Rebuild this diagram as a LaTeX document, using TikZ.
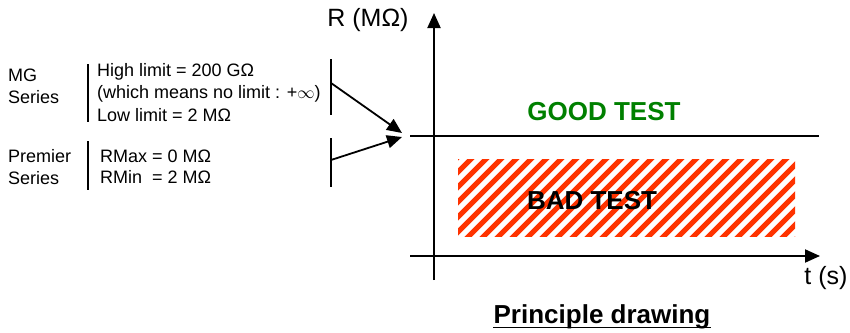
\documentclass[tikz,border=0pt]{standalone}
\usepackage{fontspec}
\setmainfont{Liberation Sans}
\usetikzlibrary{arrows.meta,calc}
\definecolor{hatchred}{RGB}{255,51,0}
\definecolor{goodgreen}{RGB}{0,128,0}
\begin{document}
\begin{tikzpicture}[x=1pt,y=-1pt,
  small/.style={font=\fontsize{18}{21}\selectfont, inner sep=0pt, anchor=west},
  big/.style={font=\fontsize{25}{29}\selectfont, inner sep=0pt},
  bigb/.style={font=\fontsize{26}{30}\selectfont\bfseries, inner sep=0pt},
  bar/.style={line width=1.8pt},
  axis/.style={line width=2pt},
  tip/.style={-{Triangle[length=15pt,width=13pt]}}]
\useasboundingbox (0,0) rectangle (850,332);
% left texts
\node[small] (mg1) at (8,75) {MG};
\node[small] (mg2) at (8,97) {Series};
\node[small] (h1) at (97,72) {High limit = 200 GΩ};
\node[small] (h2) at (97,94) {(which means no limit : +$\infty$)};
\node[small] (h3) at (97,115) {Low limit = 2 MΩ};
\node[small] (p1) at (8,156) {Premier};
\node[small] (p2) at (8,178) {Series};
\node[small] (r1) at (100,156) {RMax = 0 MΩ};
\node[small] (r2) at (100,177) {RMin\ \ = 2 MΩ};
% bars
\draw[bar] (88,64) -- (88,122);
\draw[bar] (331,59) -- (331,115);
\draw[bar] (88,141) -- (88,190);
\draw[bar] (331,138) -- (331,187);
% arrows
\coordinate (a1s) at (331,83);
\coordinate (a2s) at (331,160);
\coordinate (a1e) at (402,133);
\coordinate (a2e) at (402,137);
\draw[bar,tip] (a1s) -- (a1e);
\draw[bar,tip] (a2s) -- (a2e);
% hatch
\begin{scope}
\clip (458,159) rectangle (795,236);
\foreach \i in {-10,...,26}{
  \draw[hatchred,line width=5.2pt] ({440+\i*15},250) -- ({440+\i*15+110},140);
}
\end{scope}
% axes
\coordinate (yb) at (434,280);
\coordinate (yt) at (434,13);
\coordinate (xl) at (410,256);
\coordinate (xr) at (820,256);
\draw[axis,tip] (yb) -- (yt);
\draw[axis,tip] (xl) -- (xr);
\coordinate (tl) at (410,136);
\coordinate (tr) at (819,136);
\draw[axis] (tl) -- (tr);
% labels
\node[big] (R) at (368,20) {R (MΩ)};
\node[big] (t) at (826,278) {t (s)};
\node[bigb,text=goodgreen] (good) at (604,112) {GOOD TEST};
\node[bigb] (bad) at (592,201) {BAD TEST};
\node[bigb] (pd) at (602,317) {Principle drawing};
\draw[line width=1.5pt] ($(pd.base west)+(0,4)$) -- ($(pd.base east)+(0,4)$);
\end{tikzpicture}
\end{document}
